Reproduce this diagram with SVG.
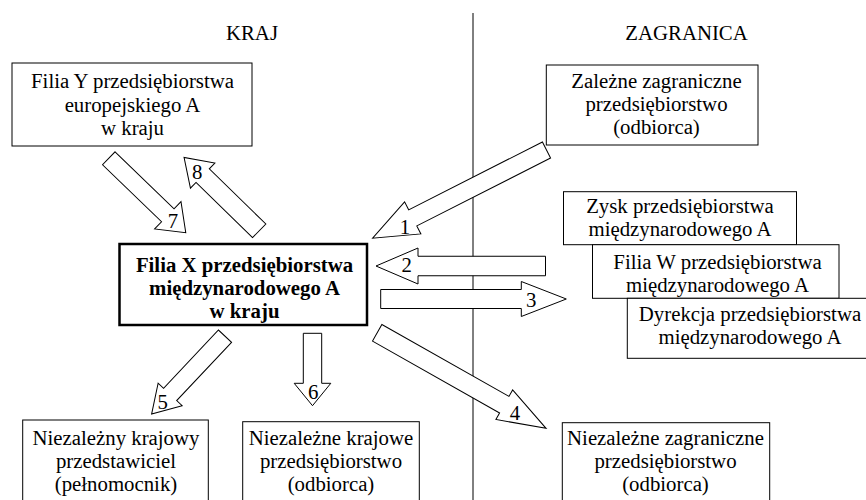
<svg xmlns="http://www.w3.org/2000/svg" width="866" height="500" viewBox="0 0 866 500">
<style>
.box{fill:#fff;stroke:#000;stroke-width:1}
.main{fill:#fff;stroke:#000;stroke-width:2.5}
.t{font-family:"Liberation Serif","Times New Roman",serif;font-size:20.8px;fill:#000;text-anchor:middle}
.b{font-weight:bold}
.arr{fill:#fff;stroke:#000;stroke-width:1;stroke-linejoin:miter}
.sep{stroke:#000;stroke-width:1}
</style>
<rect width="866" height="500" fill="#fff"/>
<line class="sep" x1="473" y1="13" x2="473" y2="500"/>
<text class="t" x="252" y="40">KRAJ</text>
<text class="t" x="686.5" y="40">ZAGRANICA</text>

<g id="connectors">
  <polygon class="arr" transform="translate(546.5,150) rotate(153.1)" points="0,-9 150,-9 150,-18 195,0 150,18 150,9 0,9"/>
  <polygon class="arr" transform="translate(545.5,266) rotate(180)" points="0,-9.75 127.5,-9.75 127.5,-18 169.5,0 127.5,18 127.5,9.75 0,9.75"/>
  <polygon class="arr" transform="translate(380.7,299) rotate(0)" points="0,-9.5 140.6,-9.5 140.6,-17.5 185.6,0 140.6,17.5 140.6,9.5 0,9.5"/>
  <polygon class="arr" transform="translate(377.2,332.8) rotate(29.5)" points="0,-9.5 146,-9.5 146,-17 194,0 146,17 146,9.5 0,9.5"/>
  <polygon class="arr" transform="translate(225,336.2) rotate(133.3)" points="0,-9 80,-9 80,-16.5 107,0 80,16.5 80,9 0,9"/>
  <polygon class="arr" transform="translate(312.5,333.3) rotate(90)" points="0,-9.2 50,-9.2 50,-18.3 72.4,0 50,18.3 50,9.2 0,9.2"/>
  <polygon class="arr" transform="translate(108.8,158.3) rotate(44)" points="0,-9 82,-9 82,-19 107,0 82,19 82,9 0,9"/>
  <polygon class="arr" transform="translate(259.2,230.8) rotate(224.3)" points="0,-9.5 79,-9.5 79,-17.5 105,0 79,17.5 79,9.5 0,9.5"/>
  <text class="t" x="405" y="234">1</text>
  <text class="t" x="406.7" y="272">2</text>
  <text class="t" x="531.3" y="307">3</text>
  <text class="t" x="515" y="420">4</text>
  <text class="t" x="162.7" y="409">5</text>
  <text class="t" x="313.3" y="399">6</text>
  <text class="t" x="173" y="228">7</text>
  <text class="t" x="197.3" y="179">8</text>
</g>

<g id="filiaY">
  <rect class="box" x="12" y="63" width="240" height="83"/>
  <text class="t"><tspan x="132.5" y="88">Filia Y przedsiębiorstwa</tspan><tspan x="132.5" y="111.5">europejskiego A</tspan><tspan x="132.5" y="135">w kraju</tspan></text>
</g>

<g id="filiaX">
  <rect class="main" x="119.5" y="244" width="247.5" height="81"/>
  <text class="t b"><tspan x="244.5" y="271.5">Filia X przedsiębiorstwa</tspan><tspan x="244.5" y="294.5">międzynarodowego A</tspan><tspan x="244.5" y="317.5">w kraju</tspan></text>
</g>

<g id="zalezne">
  <rect class="box" x="546.3" y="65" width="211.7" height="80"/>
  <text class="t"><tspan x="656.5" y="88">Zależne zagraniczne</tspan><tspan x="656.5" y="111">przedsiębiorstwo</tspan><tspan x="656.5" y="134">(odbiorca)</tspan></text>
</g>

<g id="zysk">
  <rect class="box" x="563.5" y="191.7" width="233" height="53"/>
  <text class="t"><tspan x="680" y="213">Zysk  przedsiębiorstwa</tspan><tspan x="680" y="236">międzynarodowego A</tspan></text>
</g>

<g id="filiaW">
  <rect class="box" x="592.5" y="244.7" width="246.5" height="53.6"/>
  <text class="t"><tspan x="717.5" y="269">Filia W przedsiębiorstwa</tspan><tspan x="717.5" y="292">międzynarodowego A</tspan></text>
</g>

<g id="dyrekcja">
  <rect class="box" x="627.3" y="298.3" width="250" height="60"/>
  <text class="t"><tspan x="750" y="321">Dyrekcja przedsiębiorstwa</tspan><tspan x="750" y="344">międzynarodowego A</tspan></text>
</g>

<g id="przedstawiciel">
  <rect class="box" x="22.7" y="420" width="185.6" height="90"/>
  <text class="t"><tspan x="116" y="445">Niezależny krajowy</tspan><tspan x="116" y="468">przedstawiciel</tspan><tspan x="116" y="491">(pełnomocnik)</tspan></text>
</g>

<g id="krajowe">
  <rect class="box" x="242.7" y="421.7" width="176.6" height="90"/>
  <text class="t"><tspan x="331" y="445">Niezależne krajowe</tspan><tspan x="331" y="468">przedsiębiorstwo</tspan><tspan x="331" y="491">(odbiorca)</tspan></text>
</g>

<g id="zagraniczne">
  <rect class="box" x="562.3" y="422.7" width="207.4" height="90"/>
  <text class="t"><tspan x="665.5" y="445">Niezależne zagraniczne</tspan><tspan x="665.5" y="468">przedsiębiorstwo</tspan><tspan x="665.5" y="491">(odbiorca)</tspan></text>
</g>
</svg>
